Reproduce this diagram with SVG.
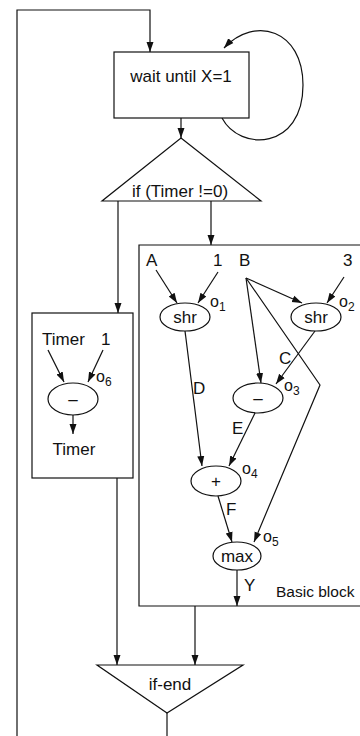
<svg xmlns="http://www.w3.org/2000/svg" width="360" height="736" viewBox="0 0 360 736">
<defs>
<marker id="ah" markerUnits="userSpaceOnUse" markerWidth="10" markerHeight="10" viewBox="0 0 10 10" refX="10" refY="5" orient="auto">
<path d="M0,1.5 L10,5 L0,8.5 Z" fill="#111"/>
</marker>
<style>
.ln{fill:none;stroke:#111;stroke-width:1.2}
.ar{fill:none;stroke:#111;stroke-width:1.2;marker-end:url(#ah)}
.sh{fill:#fff;stroke:#111;stroke-width:1.2}
.bx{fill:none;stroke:#111;stroke-width:1.2}
text{font-family:"Liberation Sans",Arial,sans-serif;font-size:17px;fill:#111}
.c{text-anchor:middle}
.o{font-size:16px}
.sub{font-size:12px}
.bb{font-size:15.5px}
</style>
</defs>
<rect width="360" height="736" fill="#fff"/>
<g id="connectors">
<polyline class="ar" points="17,736 17,10 150,10 150,52"/>
<path class="ar" d="M222,118 C240,152 303,150 303,85 C303,30 255,15 224,48"/>
<line class="ar" x1="181" y1="118" x2="181" y2="138"/>
<line class="ar" x1="118" y1="201" x2="118" y2="313"/>
<line class="ar" x1="211" y1="201" x2="211" y2="245"/>
<line class="ar" x1="48" y1="350" x2="64" y2="382"/>
<line class="ar" x1="103" y1="350" x2="88" y2="382"/>
<line class="ar" x1="73" y1="415" x2="73" y2="434"/>
<line class="ar" x1="156" y1="270" x2="177" y2="303"/>
<line class="ar" x1="218" y1="272" x2="198" y2="303"/>
<line class="ar" x1="246" y1="278" x2="302" y2="303"/>
<line class="ar" x1="344" y1="277" x2="327" y2="303"/>
<line class="ar" x1="246" y1="278" x2="261" y2="383"/>
<polyline class="ar" points="246,278 320,385 254,542"/>
<line class="ar" x1="315" y1="331" x2="276" y2="384"/>
<line class="ar" x1="185" y1="331" x2="202" y2="466"/>
<line class="ar" x1="255" y1="413" x2="229" y2="466"/>
<line class="ar" x1="218" y1="496" x2="232" y2="542"/>
<line class="ar" x1="237" y1="570" x2="237" y2="606"/>
<line class="ar" x1="117" y1="478" x2="117" y2="665"/>
<line class="ar" x1="195" y1="606" x2="195" y2="665"/>
<line class="ln" x1="167" y1="713" x2="167" y2="736"/>
</g>
<g id="wait">
<rect class="sh" x="114" y="52" width="135" height="66"/>
<text class="c" x="181" y="82">wait until X=1</text>
</g>
<g id="if">
<polygon class="sh" points="181,138 261,201 102,201"/>
<text class="c" x="180" y="197">if (Timer !=0)</text>
</g>
<g id="timerblock">
<rect class="bx" x="32" y="313" width="101" height="165"/>
<text x="42" y="345">Timer</text>
<text x="101" y="345">1</text>
<ellipse class="sh" cx="73" cy="399" rx="25" ry="16"/>
<text class="c" x="73" y="405">–</text>
<text class="o" x="96" y="382">o<tspan class="sub" dy="4">6</tspan></text>
<text class="c" x="74" y="455">Timer</text>
</g>
<g id="basicblock">
<path class="ln" d="M362,245 H139 V606 H362"/>
<text x="146" y="266">A</text>
<text x="213" y="266">1</text>
<text x="239" y="266">B</text>
<text x="343" y="266">3</text>
<text x="279" y="364">C</text>
<text x="193" y="394">D</text>
<text x="232" y="434">E</text>
<text x="226" y="515">F</text>
<text x="244" y="591">Y</text>
<text class="bb" x="276" y="597">Basic block</text>
</g>
<g id="o1">
<ellipse class="sh" cx="185" cy="317" rx="25" ry="14"/>
<text class="c" x="185" y="323">shr</text>
<text class="o" x="210" y="307">o<tspan class="sub" dy="4">1</tspan></text>
</g>
<g id="o2">
<ellipse class="sh" cx="316" cy="317" rx="25" ry="14"/>
<text class="c" x="316" y="323">shr</text>
<text class="o" x="339" y="307">o<tspan class="sub" dy="4">2</tspan></text>
</g>
<g id="o3">
<ellipse class="sh" cx="258" cy="398" rx="25" ry="15"/>
<text class="c" x="258" y="404">–</text>
<text class="o" x="284" y="391">o<tspan class="sub" dy="4">3</tspan></text>
</g>
<g id="o4">
<ellipse class="sh" cx="216" cy="481" rx="25" ry="15"/>
<text class="c" x="216" y="487">+</text>
<text class="o" x="242" y="474">o<tspan class="sub" dy="4">4</tspan></text>
</g>
<g id="o5">
<ellipse class="sh" cx="237" cy="556" rx="24" ry="14"/>
<text class="c" x="237" y="562">max</text>
<text class="o" x="263" y="542">o<tspan class="sub" dy="4">5</tspan></text>
</g>
<g id="ifend">
<polygon class="sh" points="97,665 243,665 167,713"/>
<text class="c" x="170" y="690">if-end</text>
</g>
</svg>
